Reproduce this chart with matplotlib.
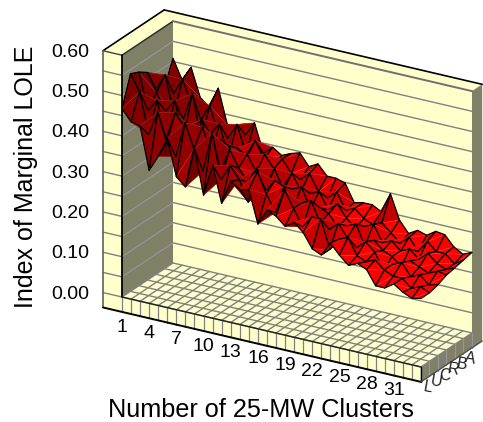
import numpy as np
import matplotlib
matplotlib.use("Agg")
import matplotlib.pyplot as plt
from matplotlib.collections import PolyCollection

plt.rcParams['font.family'] = ['Liberation Sans', 'DejaVu Sans']

# values, one list per depth row (front to back)
row_L = [.467,.44,.435,.33,.37,.42,.33,.31,.41,.30,.38,.29,.35,.335,.34,.26,.30,.29,.27,.285,.265,.23,.22,.255,.23,.21,.22,.21,.175,.175,.19,.175,.165,.17]
row_U = [.54,.50,.40,.46,.39,.36,.45,.39,.34,.44,.33,.37,.34,.29,.37,.32,.28,.34,.30,.26,.29,.29,.22,.25,.26,.22,.21,.22,.20,.19,.19,.17,.18,.17]
row_C = [.53,.44,.47,.38,.45,.42,.35,.43,.37,.33,.39,.35,.32,.36,.31,.34,.33,.28,.30,.31,.26,.25,.27,.24,.22,.24,.22,.18,.20,.21,.18,.19,.17,.176]
row_R = [.515,.47,.43,.46,.37,.40,.43,.34,.39,.38,.32,.37,.33,.30,.35,.30,.31,.32,.27,.28,.27,.24,.25,.26,.21,.23,.21,.20,.18,.20,.19,.18,.19,.186]
row_B = [.46,.50,.41,.40,.47,.36,.38,.41,.33,.36,.34,.30,.36,.33,.29,.33,.29,.29,.30,.26,.28,.25,.23,.24,.25,.21,.22,.20,.21,.19,.21,.19,.18,.19]
row_A = [.45,.44,.48,.42,.39,.43,.36,.36,.40,.33,.37,.33,.31,.34,.31,.30,.32,.28,.27,.29,.25,.26,.24,.23,.24,.22,.20,.22,.19,.22,.20,.20,.18,.195]
row_back = [.508,.46,.496,.427,.407,.46,.375,.347,.36,.395,.325,.345,.33,.34,.347,.318,.33,.305,.305,.298,.255,.26,.26,.248,.298,.238,.21,.223,.216,.231,.228,.203,.19,.20]

x_labels = ['1','4','7','10','13','16','19','22','25','28','31']
series_labels = ['L','U','C','R','B','A']
z_ticks = [0.0,0.1,0.2,0.3,0.4,0.5,0.6]

YELLOW = '#FFFFCC'
OLIVE = '#808066'
GRID = '#808080'
ZMAX = 0.6
NX, NY = 33, 6
WALL = -2.1     # thickness of the left wall, in cells
BACK = 7.2      # outer back edge, in cells
BASE = -0.037   # floor slab
MESH_LW = 0.9


def project(i, j, z):
    return (122 + 9.06*i + 8.5*j, 297 + 2.12*i - 5.67*j - 403*z)


def poly(ax, pts, fc, ec='none', lw=0, z=1):
    ax.fill(*zip(*[project(*p) for p in pts]), fc=fc, ec=ec, lw=lw, zorder=z, joinstyle='round')


def line(ax, a, b, c=GRID, lw=1.0, z=2):
    pa, pb = project(*a), project(*b)
    ax.plot([pa[0], pb[0]], [pa[1], pb[1]], color=c, lw=lw, zorder=z, solid_capstyle='round')


def shade(a, b, c):
    # brightness of a triangle from its normal, darker the higher it sits
    k = 45.0
    u = np.array([b[0]-a[0], b[1]-a[1], (b[2]-a[2])*k])
    v = np.array([c[0]-a[0], c[1]-a[1], (c[2]-a[2])*k])
    n = np.cross(u, v)
    n = n / np.linalg.norm(n)
    light = np.array([0.25, -0.35, 1.0])
    light = light / np.linalg.norm(light)
    br = abs(n.dot(light))
    h = (a[2] + b[2] + c[2]) / 3
    r = 0.38 + 1.0*br**1.3 * max(0.0, 1.3 - 2.2*h)
    return (min(r, 1.0), 0, 0, 1)


fig = plt.figure(figsize=(4.83, 4.22), dpi=100)
ax = fig.add_axes([0, 0, 1, 1])
ax.set_xlim(0, 483)
ax.set_ylim(422, 0)
ax.axis('off')

# box
poly(ax, [(0,6,0),(33,6,0),(33,6,ZMAX),(0,6,ZMAX)], YELLOW)
poly(ax, [(0,0,0),(0,6,0),(0,6,ZMAX),(0,0,ZMAX)], OLIVE)
poly(ax, [(WALL,0,0),(0,0,0),(0,0,ZMAX),(WALL,0,ZMAX)], YELLOW)
poly(ax, [(WALL,0,ZMAX),(WALL,BACK,ZMAX),(33,BACK,ZMAX),(33,6,ZMAX),(0,6,ZMAX),(0,0,ZMAX)], YELLOW)
poly(ax, [(33,6,ZMAX),(33,BACK,ZMAX),(33,BACK,BASE),(33,0,BASE),(33,0,0),(33,6,0)], OLIVE)
poly(ax, [(0,0,0),(33,0,0),(33,6,0),(0,6,0)], YELLOW)
poly(ax, [(WALL,0,0),(33,0,0),(33,0,BASE),(WALL,0,BASE)], YELLOW)

# gridlines
for z in np.arange(0.05, ZMAX, 0.05):
    line(ax, (0,6,z), (33,6,z))
    line(ax, (0,0,z), (0,6,z), c='#94949c', lw=0.9)
    line(ax, (WALL,0,z), (0,0,z))
line(ax, (WALL,0,0), (0,0,0))
for i in range(NX + 1):
    line(ax, (i,0,0), (i,6,0))
    line(ax, (i,0,0), (i,0,BASE), lw=0.9)
for j in range(NY + 1):
    line(ax, (0,j,0), (33,j,0))
    line(ax, (33,j,0), (33,j,BASE), c='#94949c', lw=0.9)

# edges of the box
line(ax, (WALL,0,ZMAX), (WALL,BACK,ZMAX), c='k', lw=1.2, z=3)
line(ax, (WALL,BACK,ZMAX), (33,BACK,ZMAX), c='k', lw=1.2, z=3)
line(ax, (0,0,ZMAX), (0,6,ZMAX), c='#303030', lw=1.1, z=3)
line(ax, (0,6,ZMAX), (33,6,ZMAX), c='#707070', lw=1.4, z=3)
line(ax, (WALL,0,ZMAX), (0,0,ZMAX), c='#404040', lw=1.0, z=3)
line(ax, (0,0,0), (0,0,ZMAX), c='k', lw=1.3, z=3)
line(ax, (WALL,0,BASE), (WALL,0,ZMAX), c='#606060', lw=1.2, z=3)
line(ax, (0,0,0), (33,0,0), c='#202020', lw=1.0, z=3)
line(ax, (WALL,0,BASE), (33,0,BASE), c='k', lw=1.4, z=3)
line(ax, (33,0,BASE), (33,0,0), c='k', lw=1.0, z=3)
line(ax, (33,0,BASE), (33,BACK,BASE), c='#505050', lw=1.0, z=3)

# surface, back rows first: two shaded triangles per cell, a pale seam between them
rows = np.array([row_L, row_U, row_C, row_R, row_B, row_A, row_back])
polys, faces, edges, widths = [], [], [], []


def add(pts, fc, ec, lw):
    polys.append([project(*p) for p in pts])
    faces.append(fc)
    edges.append(ec)
    widths.append(lw)


none = (0, 0, 0, 0)
black = (0, 0, 0, 1)
pale = (1, 0.8, 0.8, 0.2)
for j in range(rows.shape[0]-2, -1, -1):
    for i in range(rows.shape[1]-1):
        a = (i, j, rows[j,i])
        b = (i+1, j, rows[j,i+1])
        c = (i+1, j+1, rows[j+1,i+1])
        d = (i, j+1, rows[j+1,i])
        for tri in [(a,c,d), (a,b,c)]:
            col = shade(*tri)
            add(tri, col, col, 0.3)
        add((a,c), none, pale, 0.5)
        add((a,b,c,d), none, black, MESH_LW)
ax.add_collection(PolyCollection(polys, facecolors=faces, edgecolors=edges, linewidths=widths, zorder=5))

# labels
for k, lab in enumerate(x_labels):
    px, py = project(3*k, 0, 0)
    ax.text(px, py+30, lab, ha='center', va='center', fontsize=14, color='k')
for j, lab in enumerate(series_labels):
    px, py = project(33, j, 0)
    ax.text(px+7, py+20, lab, ha='center', va='center', fontsize=11.5, color='#202020', rotation=-10)
for z in z_ticks:
    px, py = project(WALL, 0, z)
    ax.text(89, py+1.5, f"{z:.2f}", ha='right', va='center', fontsize=14, color='k')
ax.text(261, 410, "Number of 25-MW Clusters", ha='center', va='center', fontsize=18.2, color='k')
ax.text(26, 177, "Index of Marginal LOLE", ha='center', va='center', rotation=90, fontsize=18, color='k')

fig.savefig("out.png", dpi=100)
